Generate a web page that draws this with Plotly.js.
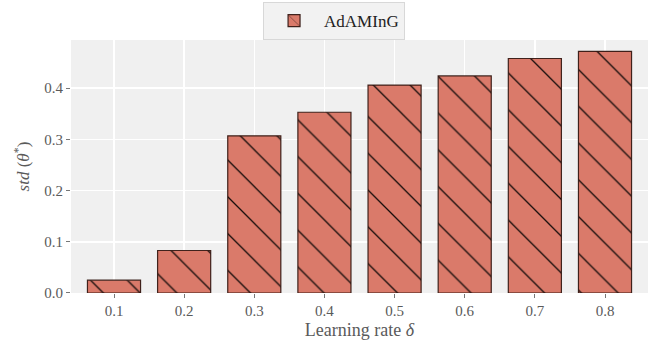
<!DOCTYPE html>
<html>
<head>
<meta charset="utf-8">
<script src="https://cdn.plot.ly/plotly-3.0.1.min.js"></script>
<style>html,body{margin:0;padding:0;background:#fff;}#chart{width:656px;height:343px;}</style>
</head>
<body>
<div id="chart"></div>
<script>
const learningRates = [0.1, 0.2, 0.3, 0.4, 0.5, 0.6, 0.7, 0.8];
const stdValues = [0.025, 0.083, 0.307, 0.353, 0.406, 0.424, 0.458, 0.472];
const tickLabels = ['0.1', '0.2', '0.3', '0.4', '0.5', '0.6', '0.7', '0.8'];
const seriesName = 'AdAMInG';

const font = 'Liberation Serif, DejaVu Serif, serif';
const barColor = '#da7a6a';

const trace = {
  type: 'bar',
  x: learningRates,
  y: stdValues,
  name: seriesName,
  width: 0.0757,
  showlegend: true,
  marker: {
    color: barColor,
    line: {color: 'rgba(45,18,12,0.9)', width: 1.2},
    pattern: {shape: '\\', size: 26, solidity: 0.05, fgcolor: '#140c0a', bgcolor: barColor, fillmode: 'replace'}
  }
};

const layout = {
  width: 656, height: 343,
  margin: {l: 71, r: 8, t: 40, b: 50},
  paper_bgcolor: '#ffffff',
  plot_bgcolor: '#f0f0f0',
  font: {family: font, color: '#5a5a5a', size: 15},
  bargap: 0,
  xaxis: {
    range: [0.0387, 0.8613],
    tickvals: learningRates,
    ticktext: tickLabels,
    showgrid: true, gridcolor: '#ffffff', gridwidth: 1.5,
    zeroline: false, showline: false,
    ticks: 'outside', ticklen: 4, tickcolor: '#777777', tickwidth: 1,
    tickfont: {family: font, size: 15, color: '#5a5a5a'},
    title: {text: 'Learning rate <i>δ</i>', font: {family: font, size: 18, color: '#5a5a5a'}, standoff: 5}
  },
  yaxis: {
    range: [0, 0.494],
    tickvals: [0, 0.1, 0.2, 0.3, 0.4],
    ticktext: ['0.0', '0.1', '0.2', '0.3', '0.4'],
    showgrid: true, gridcolor: '#ffffff', gridwidth: 1.5,
    zeroline: false, showline: false,
    ticks: 'outside', ticklen: 4, tickcolor: '#777777', tickwidth: 1,
    tickfont: {family: font, size: 15, color: '#5a5a5a'},
    title: {text: '<i>std</i> (<i>θ</i><sup>*</sup>)', font: {family: font, size: 17, color: '#5a5a5a'}, standoff: 10}
  },
  showlegend: true,
  legend: {
    orientation: 'h',
    xref: 'container', yref: 'container',
    x: 0.401, xanchor: 'left',
    y: 0.994, yanchor: 'top',
    bgcolor: '#f2f2f2',
    bordercolor: '#d8d8d8', borderwidth: 1,
    font: {family: font, size: 17, color: '#222222'},
    itemwidth: 50
  }
};

Plotly.newPlot('chart', [trace], layout, {displayModeBar: false, staticPlot: true});
</script>
</body>
</html>
